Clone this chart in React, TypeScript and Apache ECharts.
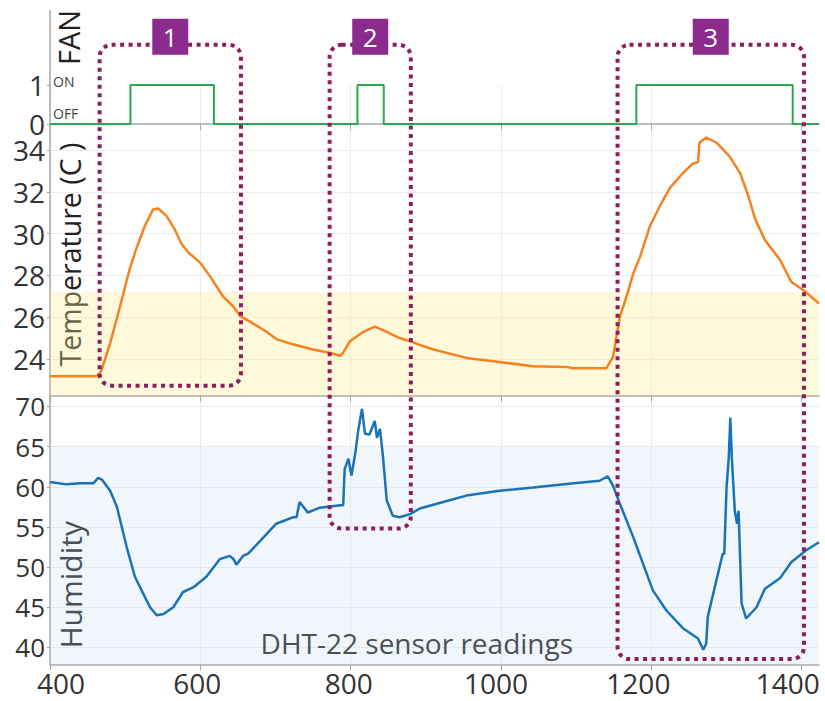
import React, { useEffect, useRef } from "react";
import * as echarts from "echarts";

const FONT = '"Open Sans", "Noto Sans", sans-serif';

// X axis
const xMin = 400;
const xMax = 1423;
const xTicks = [400, 600, 800, 1000, 1200, 1400];
const xLabelShift = [11, -3, -2, -5, -13, -14];

// FAN state (0 = OFF, 1 = ON)
const fanX = [400, 507, 507, 618, 618, 809, 809, 844, 844, 1180, 1180, 1388, 1388, 1423];
const fanY = [0, 0, 1, 1, 0, 0, 1, 1, 0, 0, 1, 1, 0, 0];
const fanTicks = [0, 1];

// Temperature (C)
const tempX = [
  400, 462, 468, 480, 493, 506, 515, 526, 537, 544, 555, 566, 575, 584, 600, 613, 630, 644, 653, 670,
  688, 701, 723, 750, 772, 786, 790, 799, 817, 832, 848, 865, 879, 890, 910, 954, 998, 1043, 1087, 1096,
  1140, 1149, 1158, 1167, 1176, 1185, 1198, 1211, 1225, 1242, 1255, 1262, 1264, 1273, 1287, 1304, 1318,
  1329, 1338, 1351, 1371, 1386, 1404, 1423,
];
const tempY = [
  23.17, 23.17, 23.4, 24.75, 26.5, 28.3, 29.3, 30.35, 31.15, 31.2, 30.85, 30.2, 29.5, 29.1, 28.6, 27.95,
  27.0, 26.5, 26.05, 25.7, 25.3, 24.95, 24.7, 24.45, 24.3, 24.15, 24.3, 24.85, 25.3, 25.55, 25.3, 25.0,
  24.85, 24.7, 24.45, 24.05, 23.85, 23.65, 23.62, 23.55, 23.55, 24.1, 26.0, 27.0, 28.1, 28.9, 30.35, 31.3,
  32.2, 32.9, 33.35, 33.42, 34.35, 34.6, 34.35, 33.7, 32.9, 31.8, 30.7, 29.7, 28.75, 27.7, 27.25, 26.65,
];
const tempTicks = [24, 26, 28, 30, 32, 34];
const tempMin = 22.25;
const tempMax = 35.2;
const tempBandTop = 27.2;

// Humidity
const humX = [
  400, 422, 440, 458, 464, 469, 480, 489, 502, 513, 524, 533, 542, 551, 564, 577, 591, 608, 626, 639, 644,
  648, 657, 664, 684, 701, 723, 728, 732, 743, 759, 786, 790, 792, 797, 801, 806, 810, 815, 819, 825, 832,
  835, 839, 843, 848, 856, 865, 879, 892, 923, 954, 998, 1043, 1087, 1131, 1142, 1149, 1158, 1176, 1189,
  1202, 1220, 1242, 1262, 1269, 1273, 1275, 1295, 1297, 1300, 1303, 1305, 1307, 1311, 1314, 1316, 1320,
  1326, 1340, 1351, 1371, 1386, 1406, 1423,
];
const humY = [
  60.6, 60.3, 60.45, 60.45, 61.1, 60.9, 59.5, 57.5, 52.5, 48.8, 46.7, 45.0, 44.0, 44.15, 45.0, 46.9, 47.5,
  48.8, 51.0, 51.4, 51.0, 50.3, 51.4, 51.7, 53.7, 55.4, 56.2, 56.2, 58.1, 56.8, 57.4, 57.7, 57.7, 62.2,
  63.5, 61.4, 64.1, 67.0, 69.7, 66.6, 66.5, 68.2, 66.1, 67.2, 63.7, 58.3, 56.4, 56.2, 56.6, 57.3, 58.1,
  58.9, 59.5, 59.9, 60.35, 60.75, 61.3, 60.15, 57.9, 53.7, 50.4, 47.1, 44.6, 42.4, 41.1, 39.7, 40.5, 43.8,
  51.7, 51.6, 59.9, 63.7, 68.6, 63.7, 57.0, 55.4, 57.0, 45.5, 43.6, 45.0, 47.3, 48.6, 50.6, 52.1, 53.1,
];
const humTicks = [40, 45, 50, 55, 60, 65, 70];
const humMin = 37.9;
const humMax = 71.3;
const humBandTop = 65;

// Highlight boxes
const boxLabels = ["1", "2", "3"];
const boxStartX = [466, 772, 1155];
const boxEndX = [654, 880, 1403];
const boxTopFan = 2.03;
const boxBottomGrid = [1, 2, 2];
const boxBottomValue = [22.72, 54.8, 38.55];

const AXIS_GRAY = "#a6a6a6";
const SPLIT_GRAY = "#ececec";

// rich styles that nudge individual x labels sideways
const xRich: any = {};
xTicks.forEach((t, i) => {
  const s = xLabelShift[i];
  xRich["t" + i] = {
    fontSize: 28,
    lineHeight: 28,
    fontFamily: FONT,
    color: "#333",
    padding: s >= 0 ? [0, 0, 0, 2 * s] : [0, -2 * s, 0, 0],
  };
});

function makeX(i: number) {
  return {
    type: "value",
    gridIndex: i,
    min: xMin,
    max: xMax,
    axisLine: { show: true, onZero: false, lineStyle: { color: AXIS_GRAY, width: 1.5 } },
    axisTick: { show: true, length: 6, customValues: xTicks, lineStyle: { color: AXIS_GRAY } },
    axisLabel: {
      show: i === 2,
      customValues: xTicks,
      formatter: (v: number) => {
        const k = xTicks.indexOf(v);
        return k >= 0 ? `{t${k}|${v}}` : String(v);
      },
      rich: xRich,
      fontSize: 28,
      lineHeight: 28,
      fontFamily: FONT,
      color: "#333",
      margin: 5,
    },
    splitLine: { show: true, lineStyle: { color: SPLIT_GRAY } },
  };
}

function makeY(i: number, min: number, max: number, ticks: number[], fontSize: number, split: boolean) {
  return {
    type: "value",
    gridIndex: i,
    min,
    max,
    axisLine: { show: true, onZero: false, lineStyle: { color: AXIS_GRAY, width: 1.5 } },
    axisTick: { show: true, length: 3, customValues: ticks, lineStyle: { color: AXIS_GRAY } },
    axisLabel: {
      customValues: ticks,
      formatter: (v: number) => String(v),
      fontSize,
      lineHeight: 20,
      fontFamily: FONT,
      color: "#333",
      margin: 5,
    },
    splitLine: { show: split, lineStyle: { color: SPLIT_GRAY } },
  };
}

export default function App() {
  const ref = useRef<HTMLDivElement>(null);
  useEffect(() => {
    if (!ref.current) return;
    const chart = echarts.init(ref.current, null, { renderer: "svg" });
    const option: any = {
      animation: false,
      grid: [
        { left: 50, right: 6, top: 85, height: 39, outerBoundsMode: "none", containLabel: false },
        { left: 50, right: 6, top: 125, height: 270.5, outerBoundsMode: "none", containLabel: false },
        { left: 50, right: 6, top: 396, height: 268.3, outerBoundsMode: "none", containLabel: false },
      ],
      xAxis: [makeX(0), makeX(1), makeX(2)],
      yAxis: [
        makeY(0, 0, 1, fanTicks, 28, false),
        makeY(1, tempMin, tempMax, tempTicks, 28, true),
        makeY(2, humMin, humMax, humTicks, 26, true),
      ],
      series: [
        {
          type: "line",
          xAxisIndex: 0,
          yAxisIndex: 0,
          data: fanX.map((x, i) => [x, fanY[i]]),
          showSymbol: false,
          clip: false,
          lineStyle: { color: "#2ea84e", width: 2 },
          itemStyle: { color: "#2ea84e" },
          silent: true,
          z: 3,
        },
        {
          type: "line",
          xAxisIndex: 1,
          yAxisIndex: 1,
          data: tempX.map((x, i) => [x, tempY[i]]),
          showSymbol: false,
          lineStyle: { color: "#f5821f", width: 2.5 },
          itemStyle: { color: "#f5821f" },
          silent: true,
          z: 3,
          markArea: {
            silent: true,
            itemStyle: { color: "rgba(255, 238, 150, 0.33)" },
            data: [[{ yAxis: tempMin }, { yAxis: tempBandTop }]],
          },
        },
        {
          type: "line",
          xAxisIndex: 2,
          yAxisIndex: 2,
          data: humX.map((x, i) => [x, humY[i]]),
          showSymbol: false,
          lineStyle: { color: "#1a72b8", width: 2.5 },
          itemStyle: { color: "#1a72b8" },
          silent: true,
          z: 3,
          markArea: {
            silent: true,
            itemStyle: { color: "rgba(196, 218, 240, 0.25)" },
            data: [[{ yAxis: humMin }, { yAxis: humBandTop }]],
          },
        },
      ],
    };
    chart.setOption(option);

    const px = (g: number, x: number, y: number) =>
      chart.convertToPixel({ gridIndex: g } as any, [x, y]) as number[];

    const graphics: any[] = [];
    // extend FAN y-axis line upward
    const fanAxisBottom = px(0, xMin, 1);
    const fanAxisTop = px(0, xMin, 2.92);
    graphics.push({
      type: "line",
      shape: { x1: fanAxisBottom[0], y1: fanAxisBottom[1], x2: fanAxisTop[0], y2: fanAxisTop[1] },
      style: { stroke: AXIS_GRAY, lineWidth: 1.5 },
      silent: true,
    });

    // axis titles
    const fanMid = px(0, xMin, 2.22);
    graphics.push({
      type: "text",
      x: fanMid[0] + 18,
      y: fanMid[1],
      rotation: Math.PI / 2,
      style: { text: "FAN", fontSize: 29, fontFamily: FONT, fill: "#222", align: "center", verticalAlign: "middle" },
      silent: true,
    });
    const tempMid = px(1, xMin, 29.0);
    graphics.push({
      type: "text",
      x: tempMid[0] + 20,
      y: tempMid[1],
      rotation: Math.PI / 2,
      style: {
        text: "Temperature (C )",
        fontSize: 28.5,
        fontFamily: FONT,
        fill: "#222",
        align: "center",
        verticalAlign: "middle",
      },
      silent: true,
    });
    const humMid = px(2, xMin, 47.8);
    graphics.push({
      type: "text",
      x: humMid[0] + 20,
      y: humMid[1],
      rotation: Math.PI / 2,
      style: { text: "Humidity", fontSize: 30, fontFamily: FONT, fill: "#222", align: "center", verticalAlign: "middle" },
      silent: true,
    });
    // ON / OFF
    const onPos = px(0, xMin, 1.1);
    const offPos = px(0, xMin, 0.28);
    graphics.push({
      type: "text",
      x: onPos[0] + 3,
      y: onPos[1],
      style: { text: "ON", fontSize: 14, fontFamily: FONT, fill: "#444", align: "left", verticalAlign: "middle" },
      silent: true,
    });
    graphics.push({
      type: "text",
      x: offPos[0] + 3,
      y: offPos[1],
      style: { text: "OFF", fontSize: 14, fontFamily: FONT, fill: "#444", align: "left", verticalAlign: "middle" },
      silent: true,
    });
    // bottom caption
    const cap = px(2, 888, 40.5);
    graphics.push({
      type: "text",
      x: cap[0],
      y: cap[1],
      style: {
        text: "DHT-22 sensor readings",
        fontSize: 28,
        fontFamily: FONT,
        fill: "#222",
        align: "center",
        verticalAlign: "middle",
      },
      silent: true,
    });

    // dotted boxes with labels
    boxLabels.forEach((lab, i) => {
      const tl = px(0, boxStartX[i], boxTopFan);
      const br = px(boxBottomGrid[i], boxEndX[i], boxBottomValue[i]);
      graphics.push({
        type: "rect",
        shape: { x: tl[0], y: tl[1], width: br[0] - tl[0], height: br[1] - tl[1], r: 12 },
        style: { fill: "transparent", stroke: "#8c1d5e", lineWidth: 4, lineDash: [4, 4.5] },
        silent: true,
        z: 10,
      });
      const cx = (tl[0] + br[0]) / 2;
      graphics.push({
        type: "rect",
        shape: { x: cx - 18, y: tl[1] - 26, width: 36, height: 36 },
        style: { fill: "#8b2b8e" },
        silent: true,
        z: 11,
      });
      graphics.push({
        type: "text",
        x: cx,
        y: tl[1] - 8,
        style: { text: lab, fontSize: 26, fontFamily: FONT, fill: "#fff", align: "center", verticalAlign: "middle" },
        silent: true,
        z: 12,
      });
    });

    chart.setOption({ graphic: graphics });
    return () => chart.dispose();
  }, []);

  return (
    <div
      ref={ref}
      style={{ position: "absolute", left: 0, top: 0, width: 825, height: 701, background: "#fff" }}
    />
  );
}
